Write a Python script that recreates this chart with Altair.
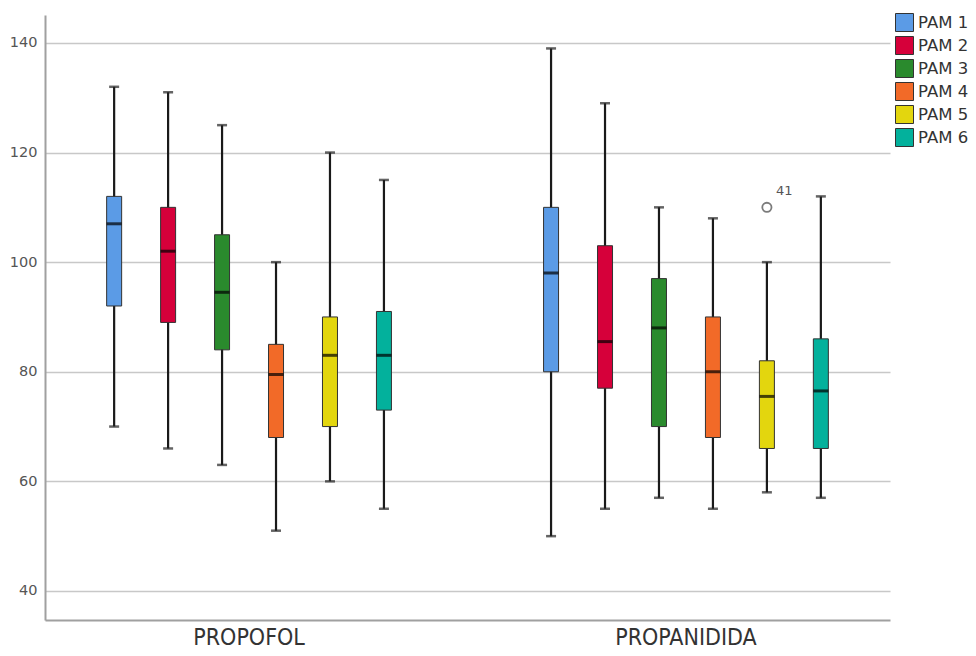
import altair as alt
import pandas as pd

groups = ["PROPOFOL", "PROPANIDIDA"]
pams = ["PAM 1", "PAM 2", "PAM 3", "PAM 4", "PAM 5", "PAM 6"]
colors = ["#5b9be6", "#d6003a", "#2a8a2d", "#f26a28", "#e3d60e", "#03b19c"]

propofol_low = [70, 66, 63, 51, 60, 55]
propofol_q1 = [92, 89, 84, 68, 70, 73]
propofol_med = [107, 102, 94.5, 79.5, 83, 83]
propofol_q3 = [112, 110, 105, 85, 90, 91]
propofol_high = [132, 131, 125, 100, 120, 115]

propanidida_low = [50, 55, 57, 55, 58, 57]
propanidida_q1 = [80, 77, 70, 68, 66, 66]
propanidida_med = [98, 85.5, 88, 80, 75.5, 76.5]
propanidida_q3 = [110, 103, 97, 90, 82, 86]
propanidida_high = [139, 129, 110, 108, 100, 112]

outlier_group = ["PROPANIDIDA"]
outlier_pam = ["PAM 5"]
outlier_value = [110]
outlier_label = ["41"]

rows = []
for g, lo, q1, md, q3, hi in [
    ("PROPOFOL", propofol_low, propofol_q1, propofol_med, propofol_q3, propofol_high),
    ("PROPANIDIDA", propanidida_low, propanidida_q1, propanidida_med, propanidida_q3, propanidida_high),
]:
    for i, p in enumerate(pams):
        rows.append({"group": g, "pam": p, "low": lo[i], "q1": q1[i], "med": md[i], "q3": q3[i], "high": hi[i]})
df = pd.DataFrame(rows)
odf = pd.DataFrame({"group": outlier_group, "pam": outlier_pam, "value": outlier_value, "label": outlier_label})

FONT = "DejaVu Sans"
XFONT = "DejaVu Sans Condensed, Liberation Sans Narrow, DejaVu Sans"

xenc = alt.X("group:N", sort=groups,
             scale=alt.Scale(paddingInner=0.259, paddingOuter=0.0965),
             axis=alt.Axis(title=None, labelAngle=0, ticks=False, labelPadding=6,
                           labelFont=XFONT, labelFontSize=23, labelColor="#333",
                           domainColor="#a0a0a0", domainWidth=2, grid=False))
xoff = alt.XOffset("pam:N", sort=pams, scale=alt.Scale(paddingInner=0, paddingOuter=0))
yscale = alt.Scale(domain=[34.7, 145.1], nice=False, zero=False)
yaxis = alt.Axis(title=None, values=[40, 60, 80, 100, 120, 140], ticks=False, grid=True,
                 gridColor="#c8c8c8", gridWidth=1.5, domainColor="#a0a0a0", domainWidth=2,
                 labelFont=FONT, labelFontSize=14.5, labelColor="#555", labelPadding=8)

base = alt.Chart(df).encode(x=xenc, xOffset=xoff)

whisker = base.mark_rule(color="#1a1a1a", strokeWidth=2.2).encode(
    y=alt.Y("low:Q", scale=yscale, axis=yaxis), y2="high:Q")
caplow = base.mark_tick(color="#222", thickness=2.5, size=10).encode(y="low:Q")
caphigh = base.mark_tick(color="#222", thickness=2.5, size=10).encode(y="high:Q")
box = base.mark_bar(size=15, stroke="#333", strokeWidth=1).encode(
    y="q1:Q", y2="q3:Q",
    color=alt.Color("pam:N", sort=pams, scale=alt.Scale(domain=pams, range=colors),
                    legend=alt.Legend(title=None, orient="none", legendX=850, legendY=-2,
                                      symbolType="square", symbolSize=324,
                                      symbolStrokeColor="#333", symbolStrokeWidth=1,
                                      labelFont=FONT, labelFontSize=16.5, labelColor="#333",
                                      rowPadding=0, labelOffset=4)))
median = base.mark_tick(color="black", thickness=3, size=15).encode(y="med:Q")

obase = alt.Chart(odf).encode(x=alt.X("group:N", sort=groups), xOffset=alt.XOffset("pam:N", sort=pams))
opoint = obase.mark_point(shape="circle", filled=False, color="#444", size=85, strokeWidth=1.8).encode(y="value:Q")
olabel = obase.mark_text(align="left", baseline="middle", dx=9, dy=-16, font=FONT, fontSize=13,
                         color="#555").encode(y="value:Q", text="label:N")

chart = alt.layer(whisker, caplow, caphigh, box, median, opoint, olabel).properties(
    width=845, height=605,
    autosize=alt.AutoSizeParams(type="none"),
    padding={"left": 37, "top": 7, "right": 78, "bottom": 30},
).configure_view(stroke=None)

chart.save("out.html", embed_options={"renderer": "svg", "actions": False})
